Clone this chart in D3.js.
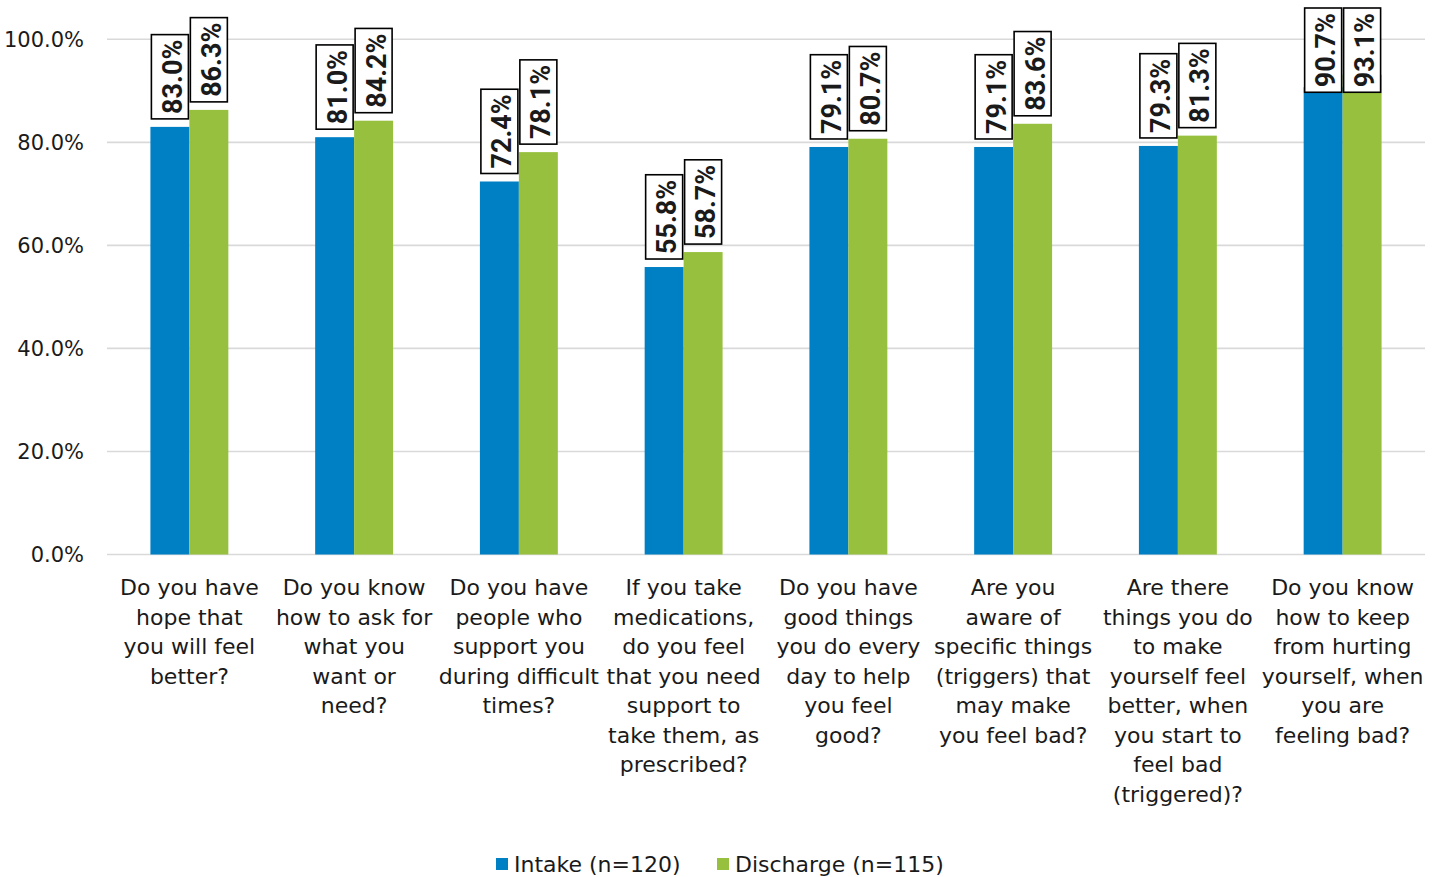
<!DOCTYPE html>
<html>
<head>
<meta charset="utf-8">
<script src="https://cdn.jsdelivr.net/npm/d3@7"></script>
<style>
  body { margin: 0; background: #fff; }
  text { font-family: "DejaVu Sans", sans-serif; fill: #1a1a1a; }
</style>
</head>
<body>
<div id="vis"></div>
<script>
// chart data
let categories = [
  "Do you have\nhope that\nyou will feel\nbetter?",
  "Do you know\nhow to ask for\nwhat you\nwant or\nneed?",
  "Do you have\npeople who\nsupport you\nduring difficult\ntimes?",
  "If you take\nmedications,\ndo you feel\nthat you need\nsupport to\ntake them, as\nprescribed?",
  "Do you have\ngood things\nyou do every\nday to help\nyou feel\ngood?",
  "Are you\naware of\nspecific things\n(triggers) that\nmay make\nyou feel bad?",
  "Are there\nthings you do\nto make\nyourself feel\nbetter, when\nyou start to\nfeel bad\n(triggered)?",
  "Do you know\nhow to keep\nfrom hurting\nyourself, when\nyou are\nfeeling bad?"
];
let seriesNames = ["Intake (n=120)", "Discharge (n=115)"];
let intake = [83.0, 81.0, 72.4, 55.8, 79.1, 79.1, 79.3, 90.7];
let discharge = [86.3, 84.2, 78.1, 58.7, 80.7, 83.6, 81.3, 93.1];
let yTicks = [0, 20, 40, 60, 80, 100];
let colors = ["#0080c4", "#96c03d"];

let width = 1444, height = 877;
let plotLeft = 107, plotRight = 1425, plotTop = 39.3, plotBottom = 554.5;

let svg = d3.select('#vis')
  .append('svg')
  .attr('width', width)
  .attr('height', height);

let x = d3.scaleBand()
  .domain(d3.range(categories.length))
  .range([plotLeft, plotRight])
  .paddingInner(0.527)
  .paddingOuter(0.2635);

let xSub = d3.scaleBand()
  .domain([0, 1])
  .range([0, x.bandwidth()]);

let y = d3.scaleLinear()
  .domain([0, 100])
  .range([plotBottom, plotTop]);

// gridlines
svg.append('g')
  .selectAll('line')
  .data(yTicks)
  .join('line')
  .attr('x1', plotLeft)
  .attr('x2', plotRight)
  .attr('y1', d => y(d))
  .attr('y2', d => y(d))
  .attr('stroke', '#d9d9d9')
  .attr('stroke-width', 1.6);

// y tick labels
svg.append('g')
  .selectAll('text')
  .data(yTicks)
  .join('text')
  .attr('x', 84)
  .attr('y', d => y(d))
  .attr('dy', '0.36em')
  .attr('text-anchor', 'end')
  .style('font-size', '21px')
  .text(d => d.toFixed(1) + '%');

let series = [intake, discharge];
let bars = [];
series.forEach((vals, s) => {
  vals.forEach((v, i) => bars.push({ s: s, i: i, v: v }));
});

// bars
svg.append('g')
  .selectAll('rect')
  .data(bars)
  .join('rect')
  .attr('x', d => x(d.i) + xSub(d.s))
  .attr('width', xSub.bandwidth())
  .attr('y', d => y(d.v))
  .attr('height', d => y(0) - y(d.v))
  .attr('fill', d => colors[d.s]);

// value labels in boxes, rotated
let lab = svg.append('g')
  .selectAll('g')
  .data(bars)
  .join('g');

lab.each(function(d) {
  let g = d3.select(this);
  let cx = x(d.i) + xSub(d.s) + xSub.bandwidth() / 2;
  let t = g.append('text')
    .style('font-family', 'Roboto, sans-serif')
    .style('font-weight', 700)
    .style('font-size', '27px')
    .attr('text-anchor', 'middle')
    .text(d.v.toFixed(1) + '%');
  let len = t.node().getComputedTextLength();
  let h = len + 10;
  let boxTop = Math.max(8, y(d.v) - 8 - h);
  let cy = boxTop + h / 2;
  g.insert('rect', 'text')
    .attr('x', cx - 18.5)
    .attr('y', boxTop)
    .attr('width', 37)
    .attr('height', h)
    .attr('fill', '#fff')
    .attr('stroke', '#000')
    .attr('stroke-width', 1.6);
  t.attr('transform', `translate(${cx + 12},${cy}) rotate(-90)`);
});

// category labels
let cat = svg.append('g')
  .selectAll('text')
  .data(categories)
  .join('text')
  .attr('text-anchor', 'middle')
  .style('font-size', '22px')
  .attr('transform', (d, i) => `translate(${x(i) + x.bandwidth() / 2},595)`);

cat.selectAll('tspan')
  .data(d => d.split('\n'))
  .join('tspan')
  .attr('x', 0)
  .attr('y', (d, j) => j * 29.5)
  .text(d => d);

// legend
let legendX = [496, 717];
let leg = svg.append('g')
  .selectAll('g')
  .data(seriesNames)
  .join('g')
  .attr('transform', (d, i) => `translate(${legendX[i]},858)`);

leg.append('rect')
  .attr('width', 12)
  .attr('height', 12)
  .attr('fill', (d, i) => colors[i]);

leg.append('text')
  .attr('x', 18)
  .attr('y', 6)
  .attr('dy', '0.36em')
  .style('font-size', '22px')
  .text(d => d);
</script>
</body>
</html>
